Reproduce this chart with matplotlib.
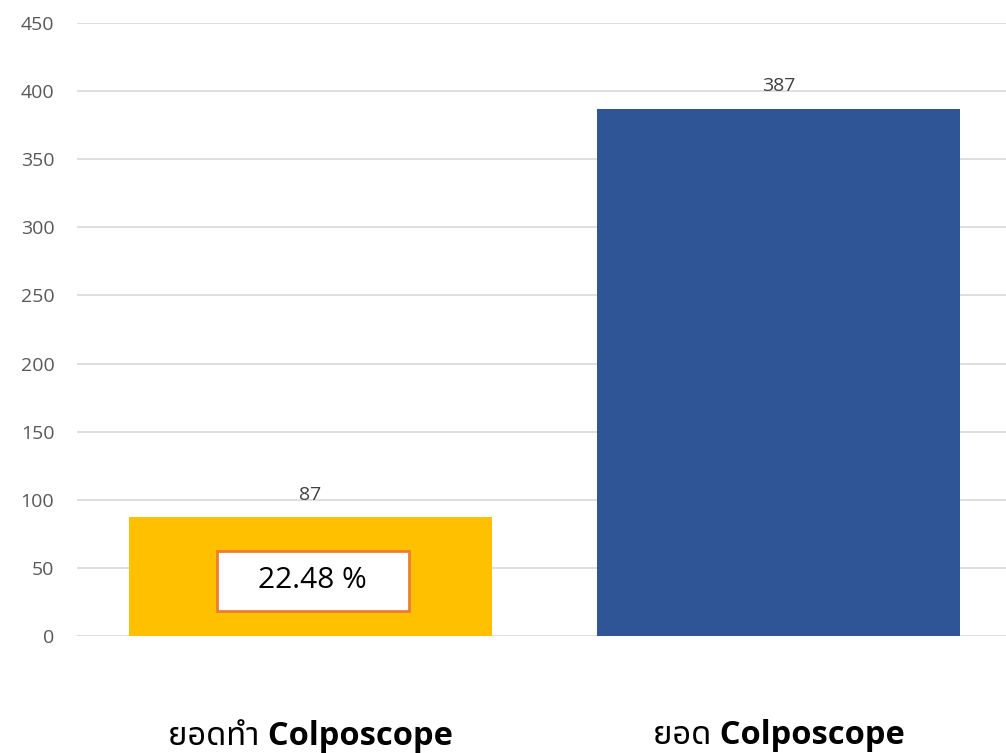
import matplotlib
matplotlib.use('Agg')
import matplotlib.pyplot as plt
from matplotlib.patches import Rectangle

# Données
categories = ['ยอดทำ Colposcope', 'ยอด Colposcope']
values = [87, 387]
bar_colors = ['#FFC000', '#2F5597']
percent_label = '22.48 %'
yticks = [0, 50, 100, 150, 200, 250, 300, 350, 400, 450]

fig = plt.figure(figsize=(10.06, 7.53), dpi=100)
ax = fig.add_axes([76.5 / 1006, 117 / 753, 936 / 1006, 613 / 753])

x = range(len(categories))
ax.bar(x, values, width=0.776, color=bar_colors, zorder=2)

for xi, v in zip(x, values):
    ax.text(xi, v + 10, str(v), ha='center', va='bottom', fontsize=14,
            color='#404040', family='Open Sans')

# Boîte du pourcentage sur la première barre
ax.add_patch(Rectangle((-0.2, 18.5), 0.41, 44, fc='white', ec='#ED7D31', lw=2, zorder=3))
ax.text(0.005, 40.5, percent_label, ha='center', va='center', fontsize=21.5, color='black',
        family='Open Sans', zorder=4)

ax.set_xlim(-0.5, 1.5)
ax.set_ylim(0, 450)
ax.set_yticks(yticks)
ax.set_yticklabels([str(t) for t in yticks], fontsize=14, color='#595959', family='Open Sans')
ax.yaxis.grid(True, color='#D9D9D9', lw=1.2, zorder=0)
ax.set_axisbelow(True)
ax.tick_params(axis='y', length=0, pad=16)
ax.tick_params(axis='x', length=0, pad=60)
ax.set_xticks(list(x))
ax.set_xticklabels(categories, fontsize=23.5, fontweight='bold',
                   family=['Open Sans', 'Noto Sans Thai', 'DejaVu Sans'])
for s in ax.spines.values():
    s.set_visible(False)

plt.savefig('out.png')
